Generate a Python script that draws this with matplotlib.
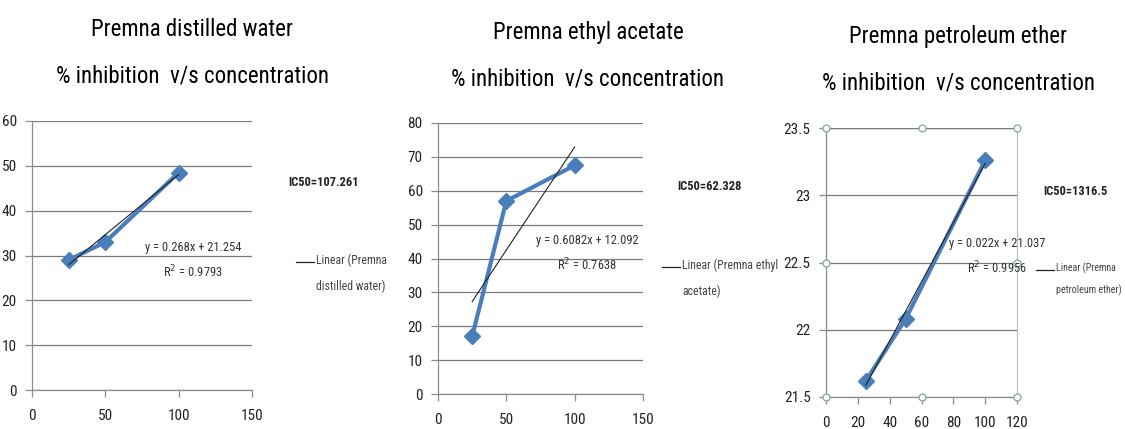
import matplotlib
matplotlib.use("Agg")
import matplotlib.pyplot as plt
import matplotlib.font_manager as fm
import numpy as np

# concentration and % inhibition
conc = [25, 50, 100]
water = [29, 33, 48.5]
ethyl = [17, 57, 67.5]
petrol = [21.62, 22.08, 23.26]

titles = ["Premna distilled water", "Premna ethyl acetate", "Premna petroleum ether"]
leg_lines = [("Linear (Premna", "distilled water)"),
             ("Linear (Premna ethyl", "acetate)"),
             ("Linear (Premna", "petroleum ether)")]
fits = [(0.268, 21.254), (0.6082, 12.092), (0.022, 21.037)]
ic50 = ["IC50=107.261", "IC50=62.328", "IC50=1316.5"]
fit_text = ["y = 0.268x + 21.254", "y = 0.6082x + 12.092", "y = 0.022x + 21.037"]
r2_text = ["0.9793", "0.7638", "0.9956"]

W, H = 1125, 429
avail = {f.name for f in fm.fontManager.ttflist}
narrow = [n for n in ['Roboto Condensed', 'Archivo Narrow', 'PT Sans Narrow',
                      'Liberation Sans Narrow', 'Open Sans Condensed'] if n in avail]
plt.rcParams['font.family'] = narrow[:1] + ['DejaVu Sans']
fig = plt.figure(figsize=(W / 100, H / 100), dpi=100)

def rect(l, r, t, b):
    return [l / W, 1 - b / H, (r - l) / W, (b - t) / H]

blue = '#4A7EBB'
grid = '#8C8C8C'

panels = [
    dict(box=(32, 252, 121, 390), y=water, xlim=(0, 150), xt=[0, 50, 100, 150],
         ylim=(0, 60), yt=range(0, 61, 10), title_x=192, title_y=(30, 76),
         ic=(288, 183), eq=(193, 247), leg=(296, 262), legsize=8.5),
    dict(box=(438, 643, 123, 394), y=ethyl, xlim=(0, 150), xt=[0, 50, 100, 150],
         ylim=(0, 80), yt=range(0, 81, 10), title_x=588, title_y=(32, 79),
         ic=(677, 187), eq=(587, 240), leg=(662, 267), legsize=8.5),
    dict(box=(826, 1017, 128, 397), y=petrol, xlim=(0, 120), xt=range(0, 121, 20),
         ylim=(21.5, 23.5), yt=[21.5, 22, 22.5, 23, 23.5], title_x=958, title_y=(37, 83),
         ic=(1043, 192), eq=(997, 243), leg=(1036, 270), legsize=7.2),
]

for i, p in enumerate(panels):
    ax = fig.add_axes(rect(*p['box']))
    ax.set_xlim(*p['xlim'])
    ax.set_ylim(*p['ylim'])
    ax.set_xticks(list(p['xt']))
    ax.set_yticks(list(p['yt']))
    if i == 2:
        ax.set_yticklabels(['21.5', '22', '22.5', '23', '23.5'])
    for s in ['top', 'right']:
        ax.spines[s].set_visible(False)
    for s in ['left', 'bottom']:
        ax.spines[s].set_color(grid)
        ax.spines[s].set_linewidth(0.9)
    ax.grid(axis='y', color='#7A7A7A', linewidth=0.9)
    ax.set_axisbelow(True)
    ax.tick_params(colors=grid, labelcolor='#222222', labelsize=11, length=5, width=0.9)
    ax.tick_params(axis='x', pad=9)
    ax.tick_params(axis='y', pad=6)

    # data series
    ax.plot(conc, p['y'], color=blue, lw=3, marker='D', ms=8, zorder=3)
    # linear trendline
    m, c = fits[i]
    xs = np.array([conc[0], conc[-1]])
    ax.plot(xs, m * xs + c, color='#222222', lw=0.8, zorder=4)

    if i == 2:
        # selected chart frame with handles
        ax.spines['right'].set_visible(True)
        ax.spines['right'].set_color('#BBBBBB')
        ax.axhline(23.5, color='#7A7A7A', lw=0.9)
        hx = [0, 60, 120, 0, 120, 0, 60, 120]
        hy = [23.5, 23.5, 23.5, 22.5, 22.5, 21.5, 21.5, 21.5]
        ax.plot(hx, hy, ls='none', marker='o', ms=5, mfc='white', mec='#8FA8A8',
                mew=1, clip_on=False, zorder=5)

    # titles and annotations in figure pixel coordinates
    tx = p['title_x'] / W
    fig.text(tx, 1 - p['title_y'][0] / H, titles[i], ha='center', va='center',
             fontsize=16.5, color='#000000')
    fig.text(tx, 1 - p['title_y'][1] / H, "% inhibition  v/s concentration",
             ha='center', va='center', fontsize=16.5, color='#000000')
    fig.text(p['ic'][0] / W, 1 - p['ic'][1] / H, ic50[i], ha='left', va='center',
             fontsize=9, fontweight='bold', color='#222222')
    fig.text(p['eq'][0] / W, 1 - p['eq'][1] / H, fit_text[i], ha='center', va='center',
             fontsize=9, color='#333333')
    fig.text(p['eq'][0] / W, 1 - (p['eq'][1] + 25) / H, "R$^2$ = " + r2_text[i],
             ha='center', va='center', fontsize=9, color='#333333')
    lx, ly = p['leg']
    fig.add_artist(plt.Line2D([lx / W, (lx + 18) / W], [1 - ly / H, 1 - ly / H],
                              color='#222222', lw=0.9))
    fig.text((lx + 20) / W, 1 - (ly - 8) / H, "\n".join(leg_lines[i]),
             ha='left', va='top', fontsize=p['legsize'], color='#444444', linespacing=2.2)

fig.savefig("out.png", dpi=100, facecolor='white')
